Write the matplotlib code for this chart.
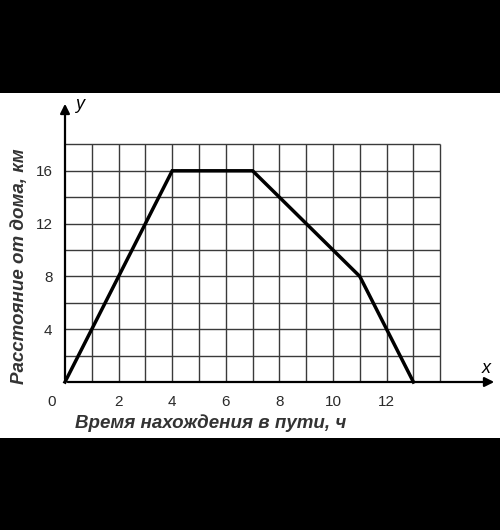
import numpy as np
import matplotlib
matplotlib.use("Agg")
import matplotlib.pyplot as plt
from matplotlib.patches import Rectangle

# data
time_h = [0, 4, 7, 11, 13]
distance_km = [0, 16, 16, 8, 0]
x_ticks = [2, 4, 6, 8, 10, 12]
y_ticks = [4, 8, 12, 16]
grid_x = list(range(1, 15))
grid_y = list(range(2, 19, 2))

plt.rcParams["font.family"] = ["Liberation Sans", "DejaVu Sans"]

fig = plt.figure(figsize=(5.0, 5.3), dpi=100, facecolor="black")
# white paper band between the black bars
fig.patches.append(Rectangle((0, (530 - 438) / 530), 1, (438 - 93) / 530,
                             transform=fig.transFigure, facecolor="white",
                             edgecolor="none", zorder=-10))

ax = fig.add_axes([65 / 500, (530 - 382) / 530, (497 - 65) / 500, (382 - 101) / 530])
ax.set_zorder(5)
ax.set_facecolor("none")
ax.set_xlim(0, (497 - 65) / 26.8)
ax.set_ylim(0, (382 - 101) / 13.2)
for s in ax.spines.values():
    s.set_visible(False)

# grid
ax.vlines(grid_x, 0, 18, color="#3a3a3a", lw=1.0, zorder=1)
ax.hlines(grid_y, 0, 14, color="#3a3a3a", lw=1.0, zorder=1)

# axes with arrows
ax.annotate("", xy=(1.0, 0), xytext=(0, 0), xycoords="axes fraction",
            arrowprops=dict(arrowstyle="-|>", color="black", lw=1.6,
                            mutation_scale=14), annotation_clip=False)
ax.annotate("", xy=(0, 1.0), xytext=(0, 0), xycoords="axes fraction",
            arrowprops=dict(arrowstyle="-|>", color="black", lw=1.6,
                            mutation_scale=14), annotation_clip=False)

# graph
ax.plot(time_h, distance_km, color="black", lw=2.5, solid_joinstyle="miter",
        zorder=3, clip_on=False)

ax.set_xticks(x_ticks)
ax.set_yticks(y_ticks)
ax.set_xticklabels([str(v) for v in x_ticks], fontsize=11, color="#2a2a2a")
ax.set_yticklabels([str(v) for v in y_ticks], fontsize=11, color="#2a2a2a")
ax.tick_params(length=0, pad=9)
ax.text(-0.49, -1.55, "0", ha="center", va="center", fontsize=11, color="#2a2a2a")

ax.text(15.7, 1.0, "x", fontsize=13, style="italic", ha="center", va="center")
ax.text(0.55, 21.0, "y", fontsize=13, style="italic", ha="center", va="center")

ax.text(5.45, -3.1, "Время нахождения в пути, ч", fontsize=13.5,
        style="italic", weight="bold", ha="center", va="center", color="#333333")
ax.text(-1.68, 8.8, "Расстояние от дома, км", fontsize=13.5, style="italic",
        weight="bold", rotation=90, ha="center", va="center", color="#333333")

fig.savefig("out.png", dpi=100, facecolor="black")
